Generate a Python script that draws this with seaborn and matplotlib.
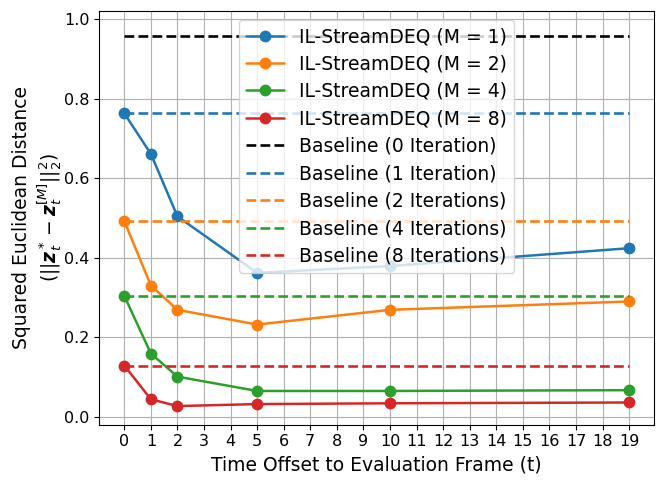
import pandas as pd
import numpy as np
import matplotlib
matplotlib.use("Agg")
import matplotlib.pyplot as plt
import seaborn as sns

# Data
offsets = [0, 1, 2, 5, 10, 19]
m1 = [0.763, 0.661, 0.504, 0.362, 0.379, 0.424]
m2 = [0.492, 0.330, 0.269, 0.232, 0.269, 0.290]
m4 = [0.304, 0.159, 0.101, 0.065, 0.065, 0.067]
m8 = [0.129, 0.044, 0.027, 0.032, 0.034, 0.036]
series_names = ["IL-StreamDEQ (M = 1)", "IL-StreamDEQ (M = 2)",
                "IL-StreamDEQ (M = 4)", "IL-StreamDEQ (M = 8)"]

baseline_names = ["Baseline (0 Iteration)", "Baseline (1 Iteration)",
                  "Baseline (2 Iterations)", "Baseline (4 Iterations)",
                  "Baseline (8 Iterations)"]
baseline_values = [0.957, 0.763, 0.492, 0.304, 0.129]
baseline_span = [0, 19]

sns.set_style("ticks")
plt.rcParams['font.family'] = ['DejaVu Sans']
plt.rcParams['text.color'] = 'black'
plt.rcParams['axes.labelcolor'] = 'black'
plt.rcParams['xtick.color'] = 'black'
plt.rcParams['ytick.color'] = 'black'

fig, ax = plt.subplots(figsize=(6.65, 4.86), dpi=100)

colors = ["#1f77b4", "#ff7f0e", "#2ca02c", "#d62728"]
for name, vals, c in zip(series_names, [m1, m2, m4, m8], colors):
    df = pd.DataFrame({"t": offsets, "d": vals})
    sns.lineplot(data=df, x="t", y="d", marker="o", markersize=8.5,
                 markeredgewidth=0, linewidth=1.8, color=c, label=name, ax=ax)

base_colors = ["black"] + colors
for name, val, c in zip(baseline_names, baseline_values, base_colors):
    df = pd.DataFrame({"t": baseline_span, "d": [val, val]})
    sns.lineplot(data=df, x="t", y="d", color=c, linestyle="--",
                 linewidth=1.9, label=name, ax=ax)

ax.set_xticks(range(0, 20))
ax.set_ylim(-0.02, 1.02)
ax.grid(True, color="#b0b0b0", linewidth=0.8)
for s in ax.spines.values():
    s.set_color("black")
    s.set_linewidth(0.8)
ax.tick_params(axis="both", labelsize=11.5, direction="out",
               length=3.5, width=0.8)

ax.set_xlabel("Time Offset to Evaluation Frame (t)", fontsize=13.5)
ax.set_ylabel("Squared Euclidean Distance\n"
              r"($||\boldsymbol{z}_t^* - \boldsymbol{z}_t^{[M]}||_2^2$)",
              fontsize=13.5, labelpad=0)

ax.legend(loc="upper center", fontsize=13.5, borderaxespad=0.45,
          labelspacing=0.45)

fig.subplots_adjust(left=0.149, right=0.984, top=0.977, bottom=0.126)
plt.savefig("out.png", dpi=100)
